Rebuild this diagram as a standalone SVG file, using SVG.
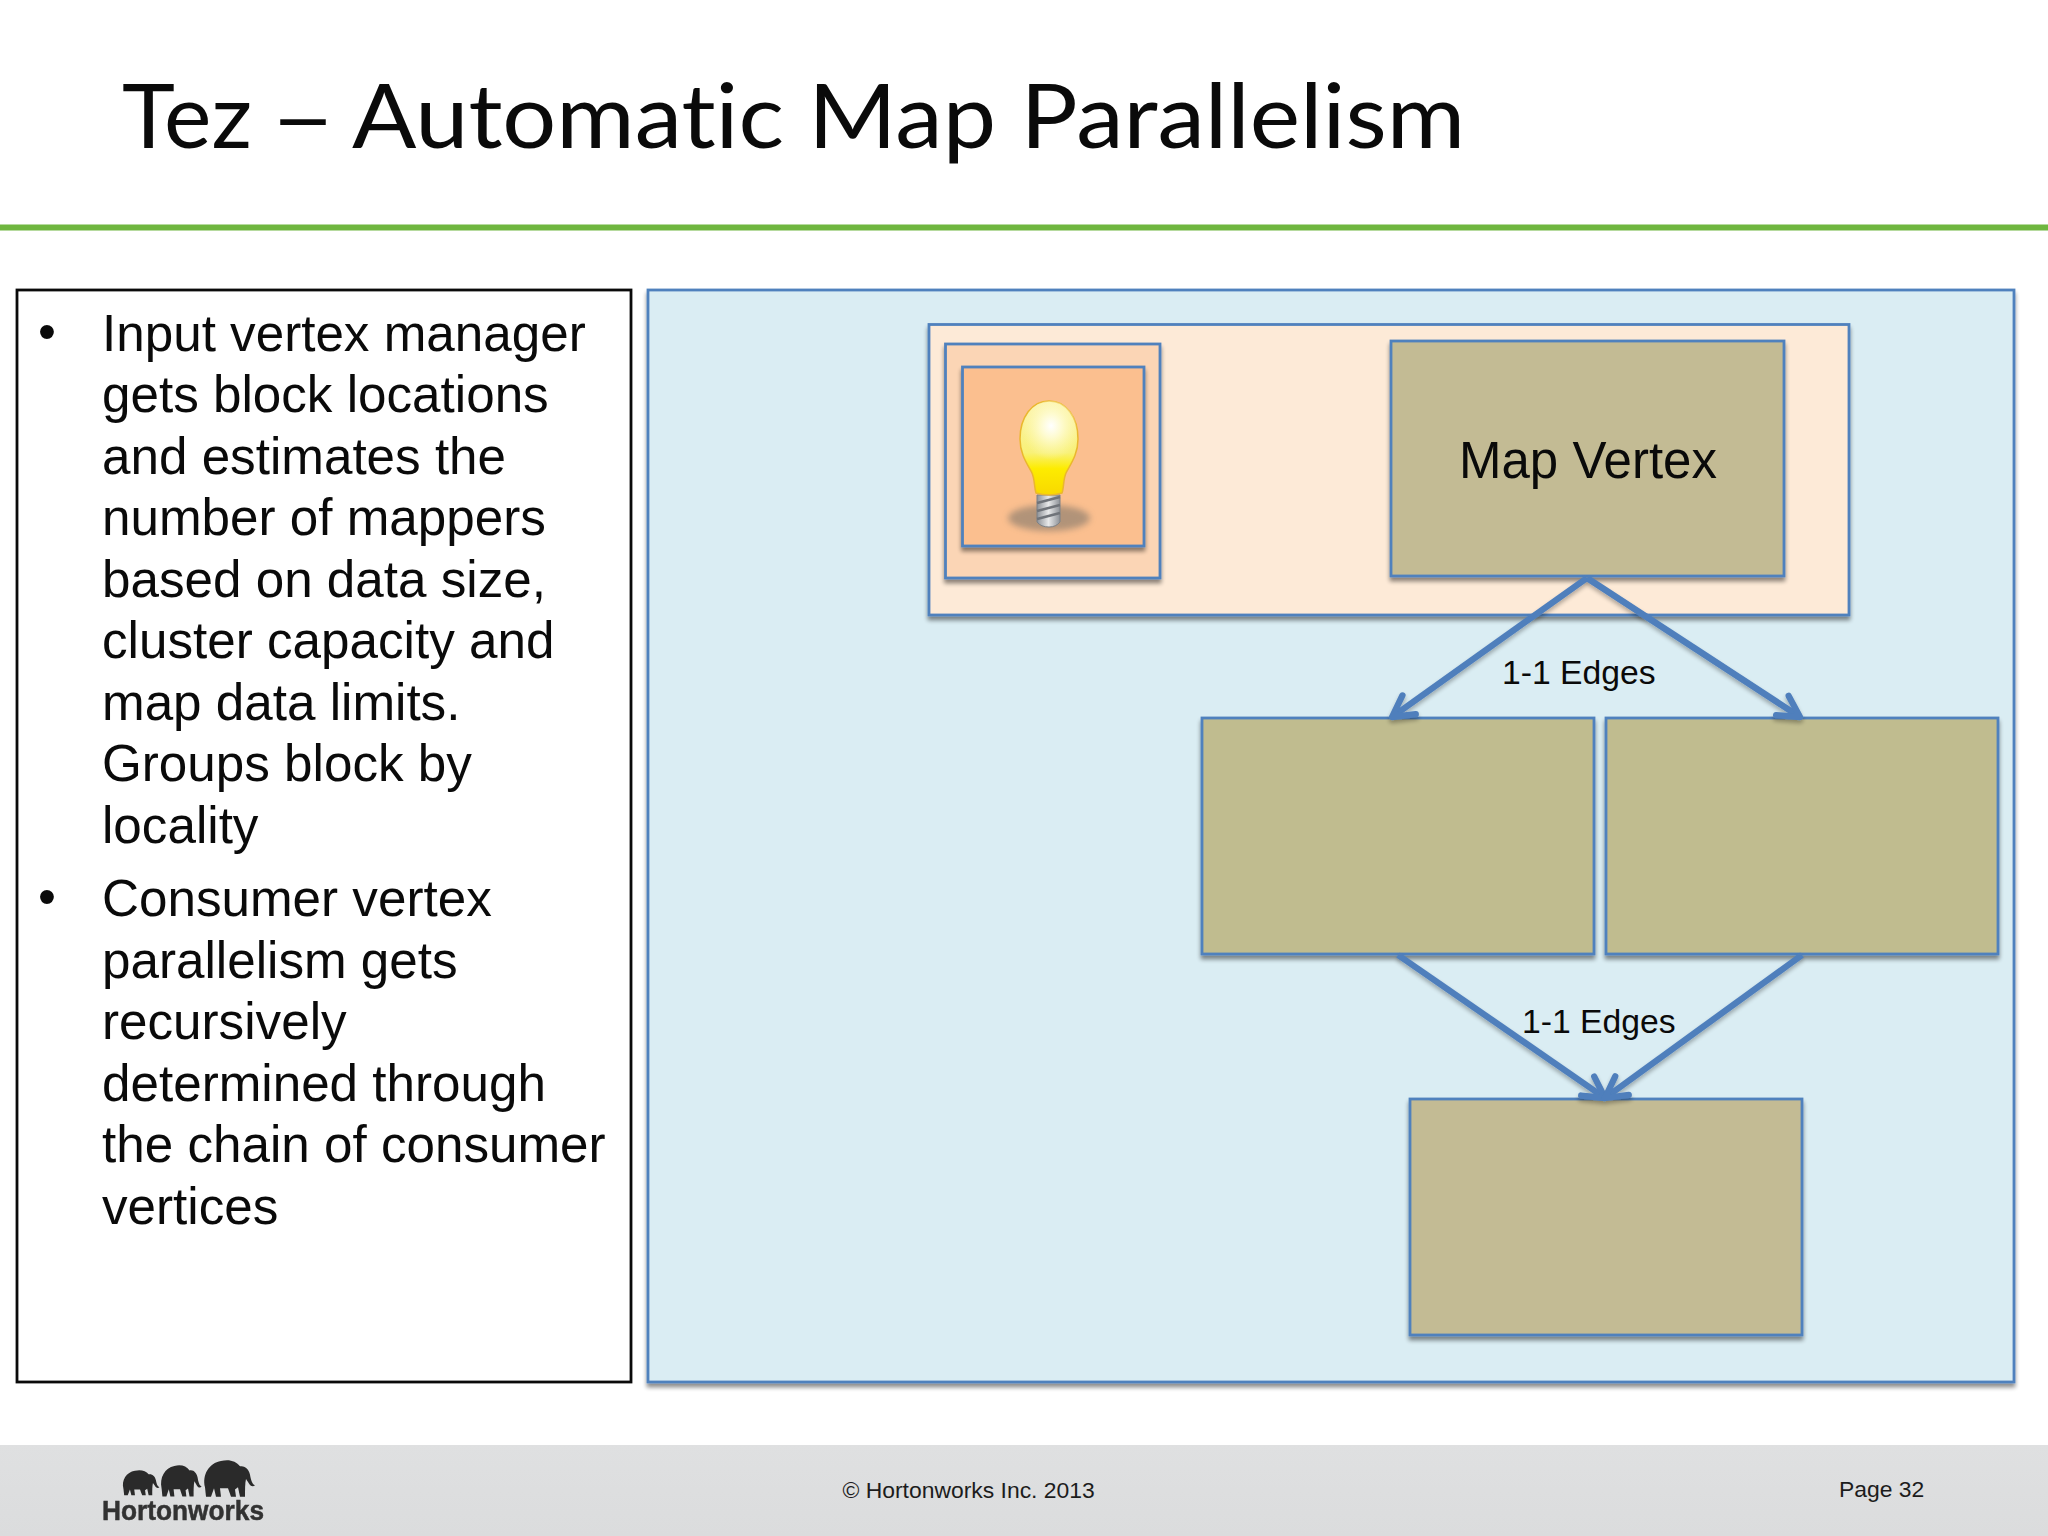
<svg xmlns="http://www.w3.org/2000/svg" width="2048" height="1536" viewBox="0 0 2048 1536">
<style>
.sans{font-family:"Liberation Sans",Arial,sans-serif;fill:#0a0a0a}
.body{font-size:51.2px}
.edge{font-size:33.7px}
.foot{font-size:22.9px;fill:#1c1c1c}
.node{stroke:#4f81bd;stroke-width:2.800;filter:url(#sh)}
.vx{fill:#c3bb94}
.vy{fill:#c0bc8f}
.conn{fill:none;stroke:#4f7fbc;stroke-width:6.300;marker-end:url(#arr)}
</style>
<defs>
<filter id="sh" x="-5%" y="-5%" width="110%" height="112%"><feGaussianBlur in="SourceAlpha" stdDeviation="2.2"/><feOffset dx="0" dy="3.5"/><feComponentTransfer><feFuncA type="linear" slope="0.45"/></feComponentTransfer><feMerge><feMergeNode/><feMergeNode in="SourceGraphic"/></feMerge></filter>
<filter id="shl" x="-10%" y="-10%" width="120%" height="120%"><feGaussianBlur in="SourceAlpha" stdDeviation="2"/><feOffset dx="0" dy="3"/><feComponentTransfer><feFuncA type="linear" slope="0.3"/></feComponentTransfer><feMerge><feMergeNode/><feMergeNode in="SourceGraphic"/></feMerge></filter>
<filter id="blur" x="-20%" y="-40%" width="140%" height="180%"><feGaussianBlur stdDeviation="3"/></filter>
<filter id="soft" x="-5%" y="-5%" width="110%" height="110%"><feGaussianBlur stdDeviation="0.600"/></filter>
<marker id="arr" markerUnits="userSpaceOnUse" markerWidth="40" markerHeight="40" viewBox="-30 -20 40 40" refX="0" refY="0" orient="auto" overflow="visible"><path d="M-21,-11.5 L0,0 L-21,11.5" fill="none" stroke="#4f7fbc" stroke-width="6.300" stroke-linecap="round" stroke-linejoin="round"/></marker>
<linearGradient id="bulbG" x1="0" y1="0" x2="0" y2="1"><stop offset="0" stop-color="#fbf3b0"/><stop offset="0.55" stop-color="#f8f178"/><stop offset="0.72" stop-color="#fdec00"/><stop offset="1" stop-color="#f8d800"/></linearGradient>
<radialGradient id="glow" cx="0.52" cy="0.4" r="0.55"><stop offset="0" stop-color="#ffffff"/><stop offset="0.35" stop-color="#fefbd0"/><stop offset="1" stop-color="#fdf9b0" stop-opacity="0"/></radialGradient>
<linearGradient id="screwG" x1="0" y1="0" x2="1" y2="0"><stop offset="0" stop-color="#8d9197"/><stop offset="0.5" stop-color="#e8e9ea"/><stop offset="1" stop-color="#8d9197"/></linearGradient>
<linearGradient id="footG" x1="0" y1="0" x2="0" y2="1"><stop offset="0" stop-color="#dfe0e1"/><stop offset="1" stop-color="#dbdcdd"/></linearGradient>
<path id="eleph" d="M2,26 C-1,14 6,3 18,1 C26,-1 33,1 37,6 C42,5 46,9 47,14 C48,19 49,23 52,24 C50,26 47,25 45,21 L43,18 C42,22 42,28 42,35 L37,35 L35,26 L32,28 L33,35 L28,35 L25,27 L17,27 L18,35 L13,35 L11,27 L8,35 L3,35 Z"/>
</defs>
<rect width="2048" height="1536" fill="#ffffff"/>
<text id="title" y="148" font-family="Lato,'Open Sans',sans-serif" font-size="90" fill="#0a0a0a" style="font-variant-ligatures:none"><tspan x="122" textLength="130" lengthAdjust="spacingAndGlyphs">Tez</tspan> <tspan x="270" textLength="66" lengthAdjust="spacingAndGlyphs">–</tspan> <tspan x="352" textLength="1113" lengthAdjust="spacingAndGlyphs">Automatic Map Parallelism</tspan></text>
<rect id="title-rule" x="0" y="224.500" width="2048" height="6" fill="#6fb63f"/>
<g id="bullets">
<rect x="17" y="290" width="614" height="1092" fill="#ffffff" stroke="#0a0a0a" stroke-width="2.800"/>
<text class="sans body"><tspan x="38" y="349">•</tspan><tspan x="102" y="351">Input vertex manager</tspan><tspan x="102" y="412">gets block locations</tspan><tspan x="102" y="473.500">and estimates the</tspan><tspan x="102" y="535">number of mappers</tspan><tspan x="102" y="596.500">based on data size,</tspan><tspan x="102" y="658">cluster capacity and</tspan><tspan x="102" y="719.500">map data limits.</tspan><tspan x="102" y="781">Groups block by</tspan><tspan x="102" y="842.500">locality</tspan><tspan x="38" y="914">•</tspan><tspan x="102" y="916">Consumer vertex</tspan><tspan x="102" y="977.500">parallelism gets</tspan><tspan x="102" y="1039">recursively</tspan><tspan x="102" y="1100.500">determined through</tspan><tspan x="102" y="1162">the chain of consumer</tspan><tspan x="102" y="1223.500">vertices</tspan></text>
</g>
<g id="panel"><rect class="node" x="648" y="290" width="1366" height="1092" fill="#daedf3"/></g>
<g id="map-container"><rect class="node" x="929" y="324.500" width="920" height="290.500" fill="#fdead7"/></g>
<g id="initializer-outer"><rect class="node" x="945.500" y="344" width="214.500" height="234" fill="#fbd5b5"/></g>
<g id="initializer-inner"><rect class="node" x="962.500" y="367" width="181.500" height="179" fill="#fbbf8f"/>
<g id="bulb">
<ellipse cx="1049" cy="518" rx="41" ry="13" fill="#93816f" opacity="0.7" filter="url(#blur)"/>
<path d="M1037,495 H1060 V522 Q1056,527 1049,527 Q1041,527 1037,522 Z" fill="url(#screwG)" stroke="#7d8187" stroke-width="1"/>
<path d="M1037,503 L1060,497 M1037,511 L1060,505 M1037,519 L1060,513" stroke="#6f7379" stroke-width="2.500" fill="none"/>
<path d="M1049,401 C1066,401 1078,417 1078,439 C1078,455 1070,465 1066,473 C1063,480 1064,488 1062,493 Q1049,497 1036,493 C1034,487 1035,480 1032,473 C1028,465 1020,455 1020,439 C1020,417 1032,401 1049,401 Z" fill="url(#bulbG)" stroke="#eab72e" stroke-width="1.500"/>
<ellipse cx="1050" cy="432" rx="27" ry="31" fill="url(#glow)"/>
</g></g>
<g id="map-vertex"><rect class="node vx" x="1391" y="341" width="393" height="235"/><text class="sans" x="1459" y="478" font-size="51">Map Vertex</text></g>
<g id="vertex-mid-left"><rect class="node vy" x="1202" y="718" width="392" height="236"/></g>
<g id="vertex-mid-right"><rect class="node vy" x="1606" y="718" width="392" height="236"/></g>
<g id="vertex-bottom"><rect class="node vx" x="1410" y="1099" width="392" height="236"/></g>
<g id="connectors" filter="url(#shl)">
<line class="conn" x1="1587" y1="578" x2="1392" y2="717"/>
<line class="conn" x1="1587" y1="578" x2="1800" y2="717"/>
<line class="conn" x1="1398" y1="955" x2="1605" y2="1098"/>
<line class="conn" x1="1802" y1="955" x2="1605" y2="1098"/>
</g>
<text class="sans edge" x="1502" y="684">1-1 Edges</text>
<text class="sans edge" x="1522" y="1033">1-1 Edges</text>
<g id="footer">
<rect x="0" y="1445" width="2048" height="91" fill="url(#footG)"/>
<text class="sans foot" x="842.500" y="1498">© Hortonworks Inc. 2013</text>
<text class="sans foot" x="1839" y="1497">Page 32</text>
<g id="logo" fill="#2a2a2a" filter="url(#soft)">
<use href="#eleph" transform="translate(122,1470) scale(0.72,0.72)"/>
<use href="#eleph" transform="translate(160,1465) scale(0.8,0.9)"/>
<use href="#eleph" transform="translate(203,1460) scale(1,1.05)"/>
<text x="102" y="1520" font-family="'Liberation Sans',Arial,sans-serif" font-weight="700" font-size="27" fill="#333333" stroke="#333333" stroke-width="0.500" textLength="162" lengthAdjust="spacingAndGlyphs">Hortonworks</text>
</g>
</g>
</svg>
